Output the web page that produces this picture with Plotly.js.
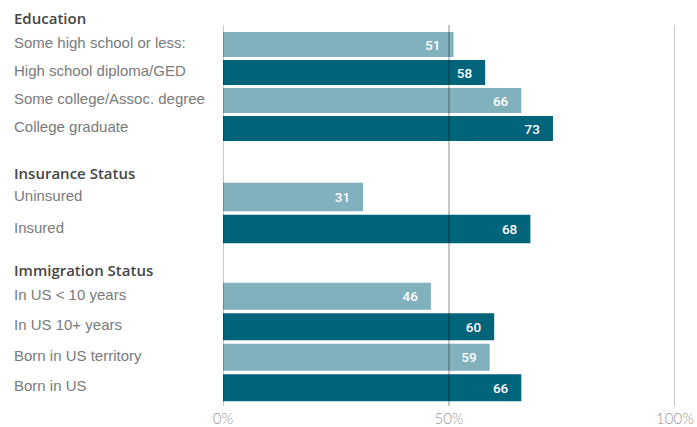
<!DOCTYPE html>
<html>
<head>
<meta charset="utf-8">
<script src="https://cdn.plot.ly/plotly-3.0.1.min.js"></script>
<style>html,body{margin:0;padding:0;background:#fff;}#chart{width:697px;height:427px;}</style>
</head>
<body>
<div id="chart"></div>
<script>
// ---- data ----
const groupTitles = ['Education', 'Insurance Status', 'Immigration Status'];
const eduCats = ['Some high school or less:', 'High school diploma/GED', 'Some college/Assoc. degree', 'College graduate'];
const eduVals = [51, 58, 66, 73];
const insCats = ['Uninsured', 'Insured'];
const insVals = [31, 68];
const immCats = ['In US < 10 years', 'In US 10+ years', 'Born in US territory', 'Born in US'];
const immVals = [46, 60, 59, 66];
const xTickVals = [0, 50, 100];
const xTickText = ['0%', '50%', '100%'];

// ---- style ----
const W = 697, H = 427, L = 223, R = 22;
const LIGHT = '#80b1bc', DARK = '#00647a';
const py = px => 1 - px / H;           // pixel row -> paper y
const labelX = (12 - L) / (W - L - R); // pixel col -> paper x

const groups = [
  {cats: eduCats, vals: eduVals, ax: 'y', dom: [py(142.5), py(30.5)], head: 18},
  {cats: insCats, vals: insVals, ax: 'y2', dom: [py(245), py(181)], head: 173},
  {cats: immCats, vals: immVals, ax: 'y3', dom: [py(403), py(281)], head: 270}
];

const traces = [];
const annotations = [];
groups.forEach((g, gi) => {
  traces.push({
    type: 'bar', orientation: 'h',
    x: g.vals, y: g.cats.map((c, i) => i),
    yaxis: g.ax, xaxis: 'x',
    marker: {color: g.vals.map((v, i) => i % 2 === 0 ? LIGHT : DARK), line: {width: 0}},
    text: g.vals.map(v => String(v)),
    texttemplate: '%{text}\u00a0\u00a0\u00a0',
    textposition: 'inside', insidetextanchor: 'end',
    textfont: {family: 'Roboto, Arial, sans-serif', size: 13.5, color: '#ffffff', weight: 500},
    constraintext: 'none', cliponaxis: false,
    hoverinfo: 'skip', showlegend: false
  });
  g.cats.forEach((c, i) => {
    annotations.push({
      text: c, xref: 'paper', x: labelX, xanchor: 'left',
      yref: g.ax, y: i, yanchor: 'middle', yshift: 2, showarrow: false,
      font: {family: 'Liberation Sans, Arial, sans-serif', size: 15, color: '#7a7a7a'}
    });
  });
  annotations.push({
    text: groupTitles[gi], xref: 'paper', x: labelX, xanchor: 'left',
    yref: 'paper', y: py(g.head), yanchor: 'middle', showarrow: false,
    font: {family: 'Open Sans, sans-serif', size: 15, color: '#454545', weight: 600}
  });
});

const shapes = xTickVals.map(v => ({
  type: 'line', xref: 'x', yref: 'paper', x0: v, x1: v, y0: py(406), y1: py(25),
  line: {color: 'rgba(0,0,0,0.45)', width: 1}, layer: 'above'
}));

const yBase = {type: 'linear', showticklabels: false, showgrid: false, zeroline: false, showline: false, ticks: '', fixedrange: true};
const layout = {
  width: W, height: H,
  margin: {l: L, r: R, t: 0, b: 0, pad: 0},
  paper_bgcolor: '#fff', plot_bgcolor: '#fff',
  bargap: 0.11,
  xaxis: {range: [0, 100], anchor: 'y3', showgrid: false, zeroline: false, showline: false, ticks: '',
          tickvals: xTickVals, ticktext: xTickText, ticklabelstandoff: 5,
          tickfont: {family: 'Lato, sans-serif', size: 15, color: '#979797', weight: 300}, fixedrange: true},
  yaxis: Object.assign({}, yBase, {domain: groups[0].dom, range: [eduCats.length - 0.5, -0.5]}),
  yaxis2: Object.assign({}, yBase, {domain: groups[1].dom, range: [insCats.length - 0.5, -0.5]}),
  yaxis3: Object.assign({}, yBase, {domain: groups[2].dom, range: [immCats.length - 0.5, -0.5]}),
  shapes: shapes,
  annotations: annotations
};

Plotly.newPlot('chart', traces, layout, {displayModeBar: false, staticPlot: true});
</script>
</body>
</html>
